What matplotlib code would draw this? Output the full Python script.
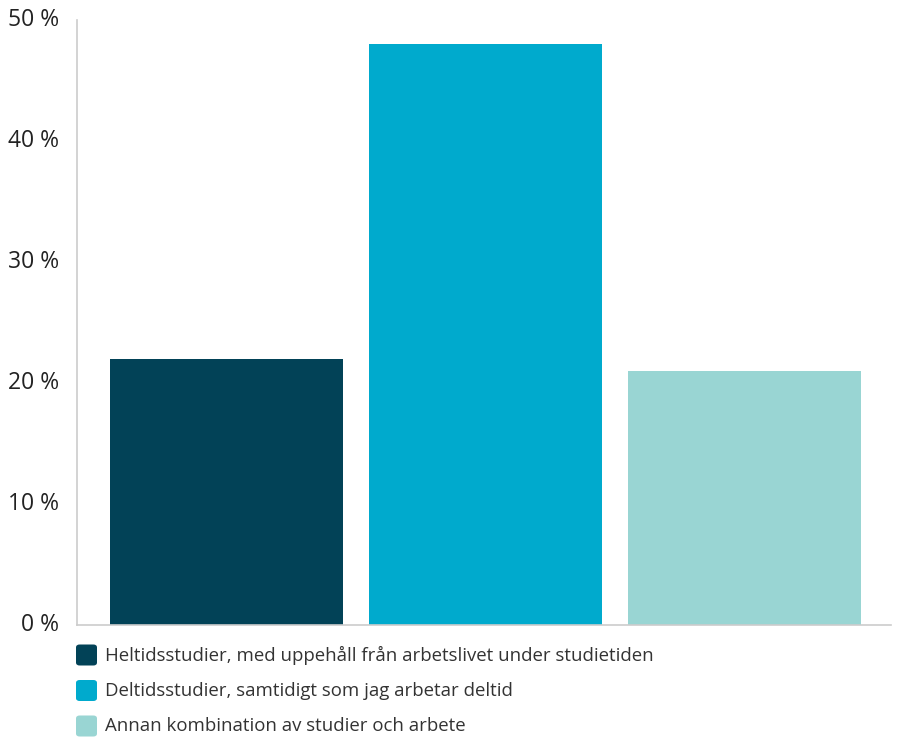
import matplotlib
matplotlib.use("Agg")
import matplotlib.pyplot as plt
from matplotlib.patches import FancyBboxPatch
from matplotlib.transforms import ScaledTranslation

categories = [
    "Heltidsstudier, med uppehåll från arbetslivet under studietiden",
    "Deltidsstudier, samtidigt som jag arbetar deltid",
    "Annan kombination av studier och arbete",
]
values = [22, 48, 21]
colors = ["#024257", "#00aacd", "#99d5d3"]
yticks = [0, 10, 20, 30, 40, 50]

plt.rcParams["font.family"] = ["Open Sans", "DejaVu Sans"]

fig = plt.figure(figsize=(8.98, 7.40), dpi=100)
ax = fig.add_axes([77 / 898, 115 / 740, 814 / 898, 605 / 740])

x = range(len(values))
ax.bar(x, values, width=0.901, color=colors)

ax.set_xlim(-0.578, 2.566)
ax.set_ylim(0, 50)
ax.set_xticks([])
ax.set_yticks(yticks)
ax.set_yticklabels([f"{t} %" for t in yticks], fontsize=16.5, color="#222222")
ax.tick_params(axis="y", length=0, pad=13)
# lift the tick labels a little
shift = ScaledTranslation(0, 3 / 100, fig.dpi_scale_trans)
for lbl in ax.get_yticklabels():
    lbl.set_transform(lbl.get_transform() + shift)

for side in ["top", "right"]:
    ax.spines[side].set_visible(False)
for side in ["left", "bottom"]:
    ax.spines[side].set_color("#cccccc")
    ax.spines[side].set_linewidth(1.2)

# legend drawn by hand below the axes
for i, (label, c) in enumerate(zip(categories, colors)):
    yc = 655 + i * 35.5
    box = FancyBboxPatch((76 / 898, (740 - yc - 10.5) / 740), 21 / 898, 21 / 740,
                         boxstyle="round,pad=0,rounding_size=0.004",
                         transform=fig.transFigure, facecolor=c, edgecolor="none")
    fig.patches.append(box)
    fig.text(105 / 898, (740 - yc) / 740, label, fontsize=13.4, color="#333333",
             va="center", ha="left")

fig.savefig("out.png", dpi=100)
